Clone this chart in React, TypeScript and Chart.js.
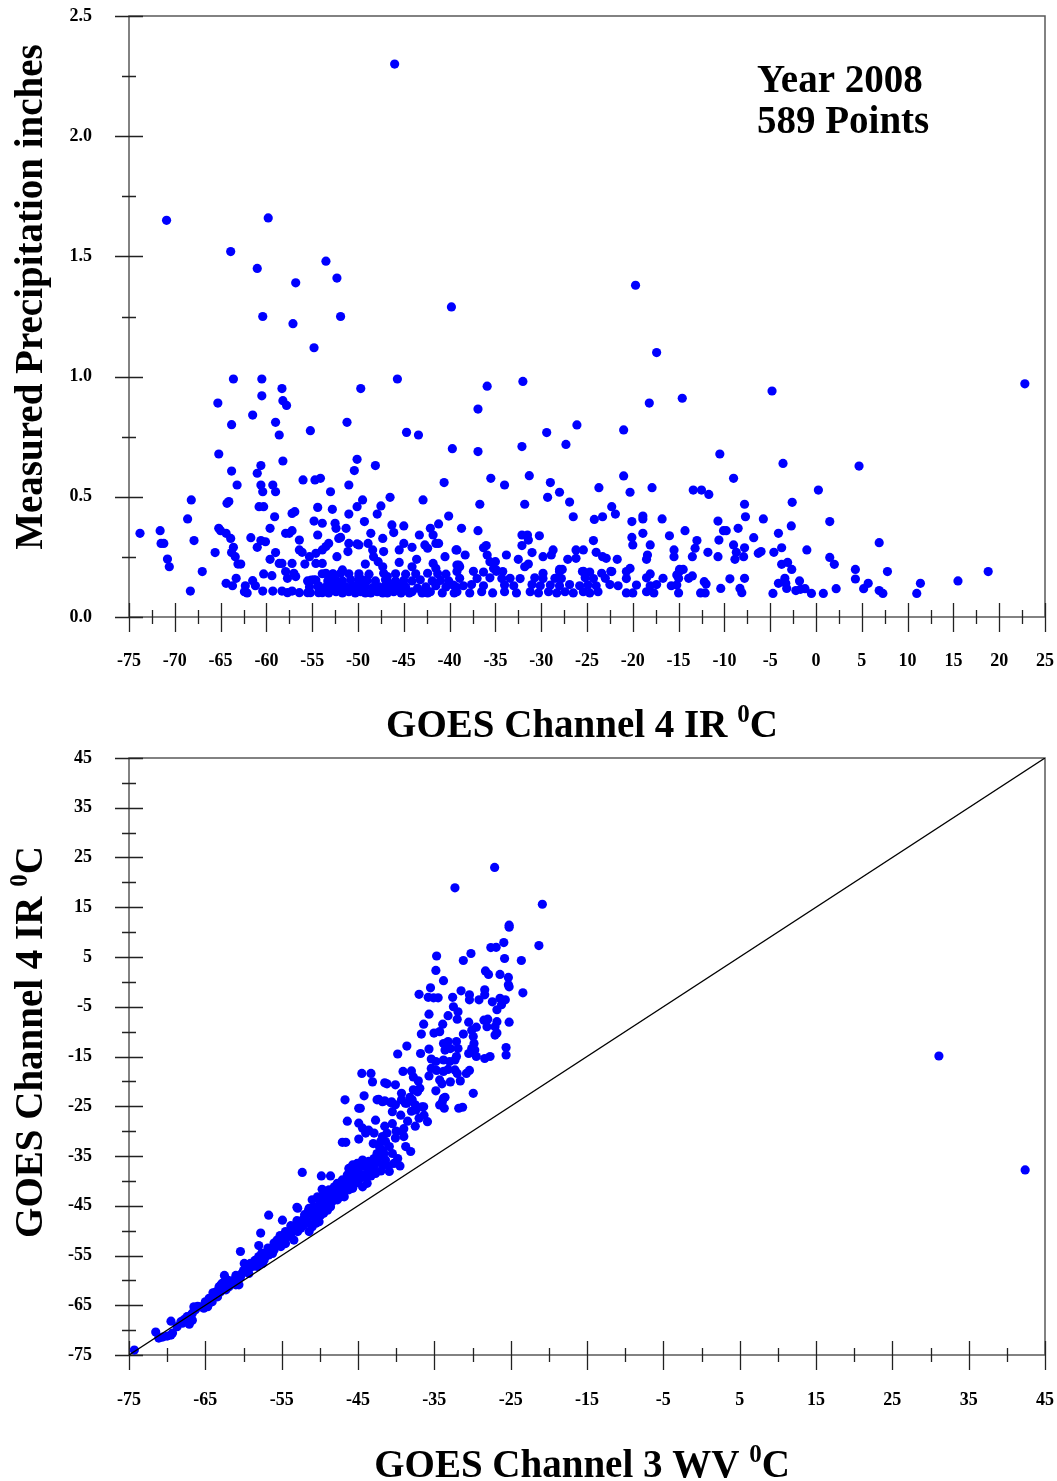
import React, { useEffect, useRef } from 'react';
import { Chart, registerables } from 'chart.js';

Chart.register(...registerables);

// ---------- Top chart data: [GOES Ch4 IR °C, measured precipitation inches] ----------
const precipHigh: number[][] = [
  [-46.0, 2.30], [-70.9, 1.65], [-59.8, 1.66], [-63.9, 1.52], [-61.0, 1.45], [-53.5, 1.48], [-56.8, 1.39],
  [-52.3, 1.41], [-60.4, 1.25], [-51.9, 1.25], [-57.1, 1.22], [-54.8, 1.12], [-39.8, 1.29], [-19.7, 1.38],
  [-17.4, 1.10], [-63.6, 0.99], [-60.5, 0.99], [-45.7, 0.99], [22.8, 0.97], [-32.0, 0.98], [-35.9, 0.96],
  [-49.7, 0.95], [-58.3, 0.95], [-4.8, 0.94], [-58.2, 0.90], [-57.8, 0.88], [-65.3, 0.89], [-18.2, 0.89],
  [-14.6, 0.91], [-36.9, 0.865], [-60.5, 0.92], [-61.5, 0.84],
];

const precipCold: number[][] = [
  [-59.0, 0.81], [-63.8, 0.80], [-51.2, 0.81], [-55.2, 0.775], [-58.6, 0.757], [-44.7, 0.768], [-43.4, 0.757],
  [-39.7, 0.70], [-65.2, 0.678], [-58.2, 0.649], [-50.1, 0.656], [-48.1, 0.63], [-60.6, 0.63], [-63.8, 0.607],
  [-61.0, 0.598], [-50.4, 0.609], [-40.6, 0.559], [-63.2, 0.549], [-60.6, 0.549], [-59.3, 0.549], [-51.0, 0.549],
  [-56.0, 0.57], [-54.7, 0.57], [-54.1, 0.577], [-60.4, 0.521], [-59.0, 0.521], [-53.0, 0.521], [-46.5, 0.498],
  [-68.2, 0.487], [-49.5, 0.487], [-42.9, 0.487], [-64.3, 0.473], [-64.1, 0.48], [-60.8, 0.459], [-60.3, 0.459],
  [-50.1, 0.459], [-54.4, 0.456], [-47.5, 0.462], [-52.8, 0.448], [-57.2, 0.431], [-56.9, 0.438], [-51.0, 0.428],
  [-47.9, 0.428], [-59.1, 0.417], [-40.1, 0.42], [-68.6, 0.408], [-54.8, 0.399], [-49.3, 0.397], [-53.9, 0.39],
  [-52.5, 0.39], [-41.2, 0.387], [-46.3, 0.383], [-45.0, 0.379], [-65.2, 0.369], [-65.0, 0.359], [-59.6, 0.369],
  [-52.4, 0.369], [-51.3, 0.369], [-42.1, 0.369], [-71.6, 0.359], [-57.2, 0.359], [-73.8, 0.348], [-64.4, 0.348],
  [-57.9, 0.348], [-57.5, 0.348], [-48.6, 0.348], [-54.4, 0.341], [-43.3, 0.341], [-41.8, 0.341], [-46.1, 0.351],
  [-61.7, 0.33], [-63.9, 0.327], [-52.1, 0.327], [-51.9, 0.331], [-47.3, 0.327], [-56.4, 0.32], [-60.6, 0.318],
  [-60.1, 0.313], [-67.9, 0.318], [-71.5, 0.306], [-71.2, 0.306], [-53.2, 0.306], [-51.0, 0.306], [-48.9, 0.306],
  [-45.0, 0.306], [-41.5, 0.306], [-41.2, 0.306], [-50.1, 0.304], [-49.9, 0.30], [-42.7, 0.30], [-63.6, 0.29],
  [-61.0, 0.29], [-53.5, 0.293], [-44.1, 0.29], [-42.4, 0.286], [-53.9, 0.279], [-56.4, 0.279], [-48.4, 0.279],
  [-45.5, 0.279], [-39.3, 0.279], [-65.6, 0.268], [-63.8, 0.268], [-59.0, 0.268], [-56.1, 0.269], [-54.6, 0.265],
  [-51.1, 0.272], [-47.2, 0.272], [-63.4, 0.251], [-55.3, 0.251], [-52.3, 0.251], [-48.3, 0.251], [-40.5, 0.251],
  [-70.8, 0.241], [-59.6, 0.24], [-43.6, 0.24], [-47.8, 0.23], [-45.5, 0.227], [-63.1, 0.22], [-62.8, 0.22],
  [-55.8, 0.22], [-49.2, 0.22], [-58.6, 0.223], [-58.3, 0.223], [-57.2, 0.223], [-54.6, 0.223], [-53.9, 0.223],
  [-41.8, 0.223], [-39.2, 0.216], [-70.6, 0.209], [-47.3, 0.209], [-44.1, 0.209], [-41.5, 0.202], [-51.7, 0.196],
  [-67.0, 0.189], [-57.9, 0.189], [-60.3, 0.179], [-57.0, 0.182], [-53.5, 0.182], [-52.7, 0.179], [-59.4, 0.172],
  [-56.8, 0.168], [-53.2, 0.168], [-49.9, 0.168], [-46.8, 0.168], [-63.3, 0.161], [-57.7, 0.161], [-55.1, 0.154],
  [-54.6, 0.154], [-61.5, 0.151], [-49.5, 0.154], [-64.4, 0.14], [-52.8, 0.14], [-46.6, 0.14], [-63.7, 0.13],
  [-62.3, 0.13], [-61.2, 0.13], [-54.3, 0.13], [-53.2, 0.126], [-52.4, 0.126], [-50.6, 0.119], [-68.3, 0.108],
  [-62.4, 0.105], [-62.1, 0.10], [-60.4, 0.108], [-59.3, 0.108], [-58.3, 0.108], [-57.7, 0.101], [-57.2, 0.108],
  [-56.4, 0.101], [-55.5, 0.101], [-55.2, 0.101], [-54.3, 0.101], [-53.9, 0.101], [-51.0, 0.105],
];

const precipColdLow: number[][] = [
  [-53.2, 0.10], [-52.4, 0.105], [-51.7, 0.10], [-50.3, 0.10], [-49.7, 0.105], [-49.2, 0.10], [-48.6, 0.10],
  [-47.9, 0.105], [-47.3, 0.10], [-46.8, 0.10], [-46.1, 0.105], [-45.3, 0.10], [-44.4, 0.10], [-44.1, 0.105],
  [-43.0, 0.10], [-42.4, 0.10], [-42.1, 0.105], [-40.8, 0.10], [-39.5, 0.10],
  [-55.3, 0.125], [-54.4, 0.128], [-53.5, 0.125], [-52.8, 0.122], [-52.1, 0.128], [-51.3, 0.125], [-50.6, 0.13],
  [-49.9, 0.125], [-49.2, 0.128], [-48.4, 0.122], [-47.7, 0.125], [-47.0, 0.13], [-46.3, 0.125], [-45.5, 0.128],
  [-44.8, 0.125], [-43.5, 0.12], [-42.6, 0.125], [-41.5, 0.13], [-40.4, 0.125], [-39.3, 0.125],
  [-55.5, 0.15], [-54.8, 0.155], [-53.3, 0.15], [-52.4, 0.152], [-51.7, 0.15], [-50.8, 0.155], [-49.9, 0.15],
  [-49.0, 0.152], [-48.1, 0.15], [-47.0, 0.155], [-45.9, 0.15], [-45.0, 0.152], [-44.1, 0.15], [-43.2, 0.155],
  [-41.9, 0.15], [-41.0, 0.152], [-40.1, 0.15],
  [-53.9, 0.18], [-52.8, 0.178], [-51.9, 0.182], [-51.0, 0.18], [-49.9, 0.18], [-48.8, 0.178], [-47.2, 0.182],
  [-45.9, 0.18], [-44.8, 0.178], [-43.7, 0.18], [-42.4, 0.182], [-41.3, 0.18], [-40.4, 0.178],
];

const precipMid: number[][] = [
  [-36.9, 0.688], [-32.1, 0.709], [-29.4, 0.767], [-27.3, 0.718], [-26.1, 0.799], [-21.0, 0.778], [-10.5, 0.678],
  [-35.5, 0.577], [-34.0, 0.549], [-31.3, 0.588], [-29.0, 0.559], [-29.3, 0.498], [-28.0, 0.519], [-26.9, 0.478],
  [-26.5, 0.417], [-31.8, 0.469], [-36.7, 0.469], [-38.7, 0.369], [-36.9, 0.359], [-39.2, 0.279], [-38.3, 0.258],
  [-39.0, 0.216], [-38.9, 0.209], [-36.3, 0.288], [-36.0, 0.297], [-35.9, 0.258], [-35.6, 0.23], [-35.0, 0.23],
  [-35.2, 0.202], [-34.9, 0.196], [-34.2, 0.189], [-33.8, 0.258], [-32.5, 0.24], [-32.1, 0.341], [-31.5, 0.341],
  [-32.1, 0.297], [-31.4, 0.32], [-31.8, 0.209], [-31.4, 0.22], [-31.0, 0.268], [-30.2, 0.338], [-29.8, 0.251],
  [-29.8, 0.182], [-28.9, 0.258], [-28.7, 0.279], [-28.0, 0.198], [-27.7, 0.198], [-27.1, 0.24], [-26.2, 0.244],
  [-26.2, 0.279], [-25.4, 0.279], [-25.5, 0.189], [-24.2, 0.406], [-23.3, 0.417], [-23.7, 0.538], [-22.3, 0.459],
  [-21.9, 0.428], [-24.3, 0.318], [-24.0, 0.269], [-23.3, 0.251], [-22.9, 0.244], [-21.7, 0.24], [-23.4, 0.182],
  [-22.3, 0.189], [-21.0, 0.587], [-20.3, 0.519], [-20.1, 0.397], [-20.1, 0.331], [-20.0, 0.30], [-20.3, 0.202],
  [-18.9, 0.42], [-18.9, 0.408], [-18.9, 0.348], [-18.1, 0.30], [-18.4, 0.258], [-18.5, 0.24], [-17.9, 0.538],
  [-18.1, 0.179], [-16.8, 0.408], [-16.7, 0.161], [-16.0, 0.338], [-15.5, 0.279], [-15.5, 0.251], [-14.3, 0.359],
  [-14.9, 0.198], [-14.5, 0.198], [-15.2, 0.175], [-15.0, 0.161], [-13.9, 0.161], [-13.5, 0.171], [-13.4, 0.528],
  [-12.5, 0.528], [-11.7, 0.51], [-13.0, 0.318], [-13.2, 0.286], [-13.5, 0.251], [-11.8, 0.269], [-12.2, 0.147],
  [-12.0, 0.137], [-10.7, 0.399], [-10.1, 0.359], [-9.8, 0.359], [-10.6, 0.32], [-10.7, 0.251], [-9.0, 0.577],
  [-7.8, 0.469], [-7.7, 0.417], [-8.5, 0.369], [-9.0, 0.30], [-8.7, 0.269], [-8.85, 0.24], [-7.8, 0.288],
  [-7.9, 0.251], [-9.4, 0.159], [-7.8, 0.161], [-8.3, 0.119], [-8.1, 0.101], [-10.4, 0.119], [-6.8, 0.33],
  [-6.3, 0.265], [-6.0, 0.272], [-5.75, 0.408],
];

const precipMidLow: number[][] = [
  [-39.2, 0.105], [-37.8, 0.10], [-36.5, 0.105], [-35.3, 0.10], [-34.0, 0.105], [-32.7, 0.10], [-31.2, 0.105],
  [-30.3, 0.10], [-29.2, 0.105], [-28.3, 0.10], [-27.4, 0.105], [-26.5, 0.10], [-25.4, 0.105], [-24.7, 0.10],
  [-23.8, 0.105], [-20.7, 0.10], [-20.0, 0.10], [-18.5, 0.105], [-17.7, 0.10], [-15.0, 0.10], [-12.6, 0.10],
  [-12.1, 0.10],
  [-39.6, 0.133], [-38.5, 0.13], [-37.6, 0.135], [-36.3, 0.13], [-34.0, 0.133], [-33.0, 0.13], [-31.0, 0.135],
  [-30.1, 0.13], [-29.0, 0.133], [-28.0, 0.13], [-26.9, 0.135], [-25.8, 0.13], [-24.9, 0.133], [-24.0, 0.13],
  [-22.5, 0.135], [-21.6, 0.13], [-19.6, 0.133], [-18.1, 0.13], [-17.4, 0.135], [-15.8, 0.13], [-15.2, 0.133],
  [-38.9, 0.161], [-37.0, 0.16], [-35.6, 0.163], [-34.3, 0.16], [-33.4, 0.161], [-32.3, 0.16], [-30.7, 0.163],
  [-29.8, 0.16], [-28.5, 0.161], [-27.8, 0.16], [-25.2, 0.163], [-24.3, 0.16], [-23.0, 0.161], [-20.7, 0.16],
  [-18.5, 0.163],
  [-39.2, 0.189], [-37.4, 0.19], [-36.3, 0.187], [-34.9, 0.19], [-28.0, 0.189], [-25.4, 0.19], [-24.7, 0.187],
  [-22.4, 0.19], [-20.7, 0.189], [-14.9, 0.19],
];

const precipWarm: number[][] = [
  [-3.6, 0.639], [4.7, 0.628], [0.26, 0.528], [-2.6, 0.477], [-2.7, 0.379], [1.5, 0.397], [-4.1, 0.348],
  [-4.6, 0.269], [-3.75, 0.288], [-1.0, 0.279], [6.9, 0.309], [1.5, 0.248], [2.0, 0.219], [-3.75, 0.219],
  [-3.1, 0.227], [-2.65, 0.198], [4.3, 0.198], [7.8, 0.189], [4.3, 0.158], [5.7, 0.14], [5.2, 0.118],
  [18.8, 0.189], [15.5, 0.15], [11.4, 0.14], [11.0, 0.098], [6.9, 0.11], [7.3, 0.098], [-3.4, 0.161],
  [-3.3, 0.14], [-3.2, 0.119], [-4.1, 0.14], [-4.7, 0.098], [-1.8, 0.15], [-2.2, 0.11], [-1.7, 0.115],
  [-1.2, 0.118], [-0.5, 0.098], [0.8, 0.098], [2.2, 0.118],
];

// ---------- Bottom chart data: [GOES Ch3 WV °C, GOES Ch4 IR °C] ----------
const irWvUpper: number[][] = [
  [-27.1, 23.0], [-32.3, 18.9], [-20.85, 15.6], [-25.2, 11.4], [-25.2, 11.0], [-25.9, 7.9], [-21.3, 7.3],
  [-27.6, 6.9], [-26.9, 6.95], [-30.2, 5.7], [-34.7, 5.2], [-31.2, 4.3], [-25.8, 4.7], [-23.6, 4.3],
  [-34.8, 2.3], [-28.3, 2.2], [-27.9, 1.5], [-26.4, 1.5], [-25.3, 0.9], [-33.8, 0.25], [-25.3, -0.6],
  [-25.2, -1.0], [-35.5, -1.2], [-31.5, -1.8], [-28.4, -1.6], [-23.4, -2.2], [-37.0, -2.5], [-35.8, -3.1],
  [-35.1, -3.2], [-34.5, -3.2], [-32.6, -3.1], [-30.4, -2.6], [-30.4, -3.6], [-29.15, -3.6], [-28.4, -2.6],
  [-27.4, -4.0], [-26.4, -3.3], [-25.7, -3.6], [-26.2, -4.6], [-26.8, -5.6], [-32.5, -5.0], [-31.9, -6.0],
  [-33.2, -6.8], [-32.0, -7.5], [-35.7, -6.5], [-28.5, -7.7], [-28.0, -7.5], [-28.1, -9.0], [-30.5, -8.1],
  [-26.8, -8.0], [-25.2, -8.1], [-36.4, -8.5], [-33.9, -8.5], [-36.7, -10.5], [-35.05, -10.3], [-34.3, -10.0],
  [-31.2, -10.5], [-30.1, -9.7], [-29.9, -11.0], [-29.5, -9.1], [-27.05, -9.0], [-27.05, -10.7], [-26.8, -10.3],
  [-33.8, -12.4], [-33.2, -12.0], [-32.1, -12.0], [-29.8, -12.4], [-29.7, -13.7], [-38.6, -12.9], [-39.8, -14.5],
  [-36.8, -14.4], [-35.7, -13.5], [-33.6, -13.7], [-32.9, -13.4], [-31.9, -13.4], [-32.1, -15.0], [-30.5, -14.4],
  [-30.1, -13.4], [-29.5, -15.0], [-28.4, -15.4], [-27.7, -15.0], [-25.6, -13.2], [-25.6, -14.7], [-35.4, -15.5],
  [-34.8, -16.0], [-33.8, -15.7], [-33.0, -16.0], [-32.3, -15.7], [-35.4, -17.4], [-34.7, -17.8], [-33.8, -18.0],
  [-33.2, -17.6], [-32.3, -17.7], [-32.0, -18.4], [-30.8, -18.4], [-30.4, -17.8], [-39.1, -18.0], [-38.0, -17.9],
  [-37.75, -19.1], [-44.5, -18.4], [-43.3, -18.4], [-43.1, -20.1], [-41.5, -20.3], [-41.2, -20.5], [-37.1, -19.9],
  [-36.9, -21.4], [-37.2, -22.1], [-35.7, -18.9], [-34.3, -19.7], [-34.0, -20.5], [-32.9, -20.1], [-31.6, -19.9],
  [-34.8, -21.9], [-33.8, -23.4], [-33.6, -23.2], [-29.9, -22.4], [-31.3, -25.2], [-40.1, -20.7], [-39.3, -22.4],
  [-39.3, -23.7], [-38.2, -23.2], [-37.75, -21.7], [-44.2, -22.9], [-46.7, -23.7], [-42.3, -23.6], [-41.5, -23.9],
  [-40.6, -24.1], [-38.6, -24.4], [-37.5, -24.7], [-36.4, -25.1], [-44.7, -25.4], [-34.3, -24.75],
];

const irWvMiddle: number[][] = [
  [-44.9, -25.4], [-42.5, -23.7], [-41.8, -24.1], [-40.7, -24.3], [-40.1, -24.7], [-40.5, -26.1], [-39.4, -26.8],
  [-38.8, -24.4], [-37.9, -23.7], [-37.4, -25.75], [-37.0, -27.4], [-36.6, -25.1], [-36.35, -26.8], [-35.9, -28.1],
  [-33.95, -24.1], [-33.7, -25.4], [-31.8, -25.4], [-46.4, -28.0], [-44.9, -28.4], [-44.4, -29.4], [-44.0, -30.4],
  [-43.6, -29.8], [-42.7, -27.8], [-42.9, -30.4], [-44.9, -31.6], [-47.05, -32.25], [-46.6, -32.25], [-41.8, -31.1],
  [-41.4, -32.1], [-40.9, -33.1], [-41.2, -30.4], [-40.1, -31.4], [-39.2, -30.1], [-39.0, -31.1], [-38.75, -33.1],
  [-38.1, -34.1], [-42.2, -33.1], [-42.5, -34.5], [-42.9, -35.5], [-43.6, -36.1], [-44.4, -35.8], [-45.1, -36.5],
  [-45.7, -36.8], [-46.2, -37.5], [-45.3, -37.5], [-44.2, -37.1], [-43.6, -37.8], [-42.9, -37.1], [-42.7, -38.5],
  [-41.8, -36.8], [-41.4, -35.8], [-41.6, -34.5], [-40.9, -38.1], [-43.8, -40.5], [-44.9, -39.8], [-44.0, -39.2],
  [-44.4, -41.2], [-46.6, -39.8], [-47.05, -40.8], [-47.7, -41.5], [-48.4, -42.2], [-46.4, -41.2], [-45.7, -41.5],
  [-45.3, -40.5], [-52.3, -38.3], [-49.8, -39.0], [-48.6, -39.0], [-49.7, -41.7], [-49.0, -43.2], [-49.7, -43.8],
  [-50.3, -43.2], [-51.0, -43.8], [-50.8, -45.2], [-51.4, -45.5], [-50.5, -46.2], [-49.9, -45.5], [-49.2, -44.5],
  [-48.4, -44.2], [-47.9, -43.2], [-47.5, -42.5], [-46.8, -42.2], [-46.2, -41.8], [-53.0, -45.3],
  [-43.0, -32.5], [-42.0, -32.0], [-40.5, -34.5], [-39.8, -35.5], [-40.3, -36.5], [-39.5, -37.0], [-43.3, -39.0],
  [-42.0, -38.0], [-41.0, -37.0], [-45.8, -39.0], [-45.0, -38.0], [-46.0, -38.0], [-48.0, -41.5], [-49.5, -42.5],
  [-41.5, -29.0], [-40.5, -28.5], [-38.5, -28.0], [-38.0, -26.0], [-39.0, -29.5], [-40.0, -30.0], [-37.5, -29.0],
];

const irWvLower: number[][] = [
  [-74.3, -74.0], [-71.5, -70.4], [-71.1, -71.6], [-70.6, -71.4], [-70.0, -71.2], [-69.5, -71.0], [-69.5, -68.2],
  [-68.2, -68.3], [-67.8, -67.9], [-67.1, -68.8], [-66.9, -67.0], [-66.5, -65.3], [-66.0, -65.2],
  [-69.3, -70.6], [-68.7, -69.3], [-68.0, -68.6], [-67.4, -67.3], [-66.7, -66.6], [-66.3, -65.9], [-65.6, -65.3],
  [-65.2, -65.6], [-66.7, -68.0], [-64.5, -64.6], [-63.4, -63.3], [-62.6, -61.6], [-61.9, -60.3], [-61.2, -59.9],
  [-60.6, -60.9],
  [-65.0, -64.3], [-64.7, -65.3], [-64.5, -63.6], [-63.9, -63.3], [-63.6, -62.3], [-63.2, -61.3], [-62.8, -60.6],
  [-62.3, -61.9], [-61.9, -61.3], [-61.0, -60.9], [-60.8, -59.9], [-60.2, -58.6], [-59.9, -56.6], [-60.4, -54.2],
  [-59.5, -57.9], [-58.8, -57.2], [-58.4, -55.9], [-58.0, -55.2], [-57.75, -50.5], [-57.5, -56.6], [-57.1, -55.2],
  [-56.7, -46.9], [-56.2, -54.6], [-55.8, -53.2], [-55.35, -52.6], [-54.9, -47.9], [-54.7, -51.9], [-54.3, -51.2],
  [-54.0, -50.5], [-53.6, -50.2], [-53.2, -49.2], [-52.9, -45.5], [-52.7, -48.5], [-52.3, -47.9], [-51.9, -47.2],
  [-51.2, -46.5], [-51.0, -49.2], [-50.5, -48.5], [-50.3, -47.5], [-49.9, -46.9], [-49.7, -45.9], [-49.2, -45.2],
  [-48.8, -44.5], [-48.4, -43.5], [-47.9, -42.5], [-47.5, -41.8], [-47.05, -41.2], [-46.6, -40.8], [-46.2, -39.8],
  [-48.8, -41.8], [-48.1, -41.2], [-47.7, -40.5], [-47.05, -39.8], [-46.4, -38.8],
  [-64.1, -64.3], [-63.0, -62.3], [-61.5, -60.3], [-60.4, -59.3], [-59.3, -58.6], [-59.1, -56.6], [-58.2, -57.2],
  [-57.3, -55.9], [-56.7, -54.9], [-56.0, -53.9], [-55.6, -51.9], [-55.1, -53.2], [-54.5, -52.6], [-53.8, -51.2],
  [-53.4, -51.9], [-52.9, -50.2], [-52.5, -49.5], [-52.1, -48.9], [-51.6, -48.2], [-51.4, -50.2], [-50.8, -47.2],
  [-50.1, -48.2], [-49.5, -46.5], [-49.0, -45.9], [-48.6, -45.2], [-48.1, -42.8], [-47.7, -43.8], [-47.3, -43.2],
  [-46.8, -43.2], [-46.0, -40.8], [-45.5, -39.2], [-44.9, -38.5], [-44.4, -38.8], [-43.3, -36.8], [-42.5, -36.1],
  [-42.2, -35.1], [-41.8, -33.8],
  [-50.0, -44.5], [-51.5, -46.0], [-52.0, -46.8], [-53.0, -48.0], [-53.8, -49.0], [-54.5, -50.2], [-55.2, -51.0],
  [-56.0, -52.5], [-56.8, -53.5], [-57.6, -54.5], [-58.5, -56.0], [-59.5, -56.9], [-60.0, -58.0], [-61.0, -59.0],
  [-62.0, -60.0], [-63.0, -61.0], [-64.0, -62.5], [-62.5, -59.0], [-58.0, -53.0],
];

const irWvOutliers: number[][] = [[31.1, -14.9], [42.4, -37.8]];

const oneToOneLine: number[][] = [[-75, -75], [45, 45]];

// ---------- Axes ----------
const topXMajor = [-75, -70, -65, -60, -55, -50, -45, -40, -35, -30, -25, -20, -15, -10, -5, 0, 5, 10, 15, 20, 25];
const topXLabels = ['-75', '-70', '-65', '-60', '-55', '-50', '-45', '-40', '-35', '-30', '-25', '-20', '-15', '-10', '-5', '0', '5', '10', '15', '20', '25'];
const topYMajor = [0, 0.5, 1.0, 1.5, 2.0, 2.5];
const topYLabels = ['0.0', '0.5', '1.0', '1.5', '2.0', '2.5'];
const botXMajor = [-75, -65, -55, -45, -35, -25, -15, -5, 5, 15, 25, 35, 45];
const botXLabels = ['-75', '-65', '-55', '-45', '-35', '-25', '-15', '-5', '5', '15', '25', '35', '45'];
const botYMajor = [-75, -65, -55, -45, -35, -25, -15, -5, 5, 15, 25, 35, 45];
const botYLabels = ['-75', '-65', '-55', '-45', '-35', '-25', '-15', '-5', '5', '15', '25', '35', '45'];

const SERIF = '"Liberation Serif", "Times New Roman", Times, serif';

function midpoints(v: number[]) {
  const out: number[] = [];
  for (let i = 0; i < v.length - 1; i++) out.push((v[i] + v[i + 1]) / 2);
  return out;
}

function drawSupTitle(ctx: CanvasRenderingContext2D, cx: number, cy: number, rot: number, pre: string, sup: string, post: string) {
  ctx.save();
  ctx.translate(cx, cy);
  ctx.rotate(rot);
  const mainFont = `bold 39px ${SERIF}`;
  const supFont = `bold 25px ${SERIF}`;
  ctx.font = mainFont;
  const w1 = ctx.measureText(pre).width;
  const w3 = ctx.measureText(post).width;
  ctx.font = supFont;
  const w2 = ctx.measureText(sup).width;
  const x0 = -(w1 + w2 + w3) / 2;
  ctx.textAlign = 'left';
  ctx.textBaseline = 'alphabetic';
  ctx.fillStyle = '#000';
  ctx.font = mainFont;
  ctx.fillText(pre, x0, 0);
  ctx.font = supFont;
  ctx.fillText(sup, x0 + w1, -15);
  ctx.font = mainFont;
  ctx.fillText(post, x0 + w1 + w2, 0);
  ctx.restore();
}

type AxisCfg = {
  xMajor: number[]; xLabels: string[]; yMajor: number[]; yLabels: string[];
  xLabelOffset: number;
  xTitle: [string, string, string]; yTitle: [string, string, string];
  xTitleY: number; yTitleX: number; yTitleY: number;
  note?: boolean;
};

function makeAxesPlugin(cfg: AxisCfg) {
  return {
    id: 'customAxes',
    beforeDatasetsDraw(chart: any) {
      const { ctx, chartArea: ca, scales } = chart;
      const xs = scales.x;
      const ys = scales.y;
      ctx.save();
      ctx.strokeStyle = '#5a5a5a';
      ctx.lineWidth = 1.5;
      ctx.beginPath();
      ctx.moveTo(ca.left, ca.top);
      ctx.lineTo(ca.right, ca.top);
      ctx.lineTo(ca.right, ca.bottom);
      ctx.lineTo(ca.left, ca.bottom);
      ctx.closePath();
      ctx.stroke();
      ctx.strokeStyle = '#222';
      ctx.lineWidth = 1.3;
      ctx.beginPath();
      cfg.xMajor.forEach((v) => {
        const p = Math.round(xs.getPixelForValue(v)) + 0.5;
        ctx.moveTo(p, ca.bottom - 14);
        ctx.lineTo(p, ca.bottom + 15);
      });
      midpoints(cfg.xMajor).forEach((v) => {
        const p = Math.round(xs.getPixelForValue(v)) + 0.5;
        ctx.moveTo(p, ca.bottom - 7);
        ctx.lineTo(p, ca.bottom + 7);
      });
      cfg.yMajor.forEach((v) => {
        const p = Math.round(ys.getPixelForValue(v)) + 0.5;
        ctx.moveTo(ca.left - 14, p);
        ctx.lineTo(ca.left + 14, p);
      });
      midpoints(cfg.yMajor).forEach((v) => {
        const p = Math.round(ys.getPixelForValue(v)) + 0.5;
        ctx.moveTo(ca.left - 7, p);
        ctx.lineTo(ca.left + 7, p);
      });
      ctx.stroke();
      ctx.fillStyle = '#000';
      ctx.font = `bold 18px ${SERIF}`;
      ctx.textAlign = 'center';
      ctx.textBaseline = 'middle';
      cfg.xMajor.forEach((v, i) => {
        ctx.fillText(cfg.xLabels[i], xs.getPixelForValue(v), ca.bottom + cfg.xLabelOffset);
      });
      ctx.textAlign = 'right';
      cfg.yMajor.forEach((v, i) => {
        ctx.fillText(cfg.yLabels[i], ca.left - 37, ys.getPixelForValue(v));
      });
      ctx.restore();
      drawSupTitle(ctx, 582, cfg.xTitleY, 0, cfg.xTitle[0], cfg.xTitle[1], cfg.xTitle[2]);
      drawSupTitle(ctx, cfg.yTitleX, cfg.yTitleY, -Math.PI / 2, cfg.yTitle[0], cfg.yTitle[1], cfg.yTitle[2]);
      if (cfg.note) {
        ctx.save();
        ctx.fillStyle = '#000';
        ctx.font = `bold 39px ${SERIF}`;
        ctx.textAlign = 'left';
        ctx.textBaseline = 'alphabetic';
        ctx.fillText('Year 2008', 757, 92);
        ctx.fillText('589 Points', 757, 133);
        ctx.restore();
      }
    },
  };
}

const toXY = (arr: number[][]) => arr.map(([x, y]) => ({ x, y }));

function ScatterCanvas({ config, width, height }: { config: () => any; width: number; height: number }) {
  const ref = useRef<HTMLCanvasElement | null>(null);
  useEffect(() => {
    if (!ref.current) return;
    const chart = new Chart(ref.current, config());
    return () => chart.destroy();
  }, []);
  return <canvas ref={ref} width={width} height={height} style={{ display: 'block', width, height }} />;
}

const baseOptions = (xmin: number, xmax: number, ymin: number, ymax: number, padBottom: number, padTop: number) => ({
  responsive: false,
  maintainAspectRatio: false,
  animation: false,
  devicePixelRatio: 1,
  layout: { padding: { left: 129, right: 12, top: padTop, bottom: padBottom } },
  plugins: { legend: { display: false }, tooltip: { enabled: false } },
  events: [],
  scales: {
    x: { type: 'linear', min: xmin, max: xmax, display: false },
    y: { type: 'linear', min: ymin, max: ymax, display: false },
  },
});

const topConfig = () => ({
  type: 'scatter',
  data: {
    datasets: [
      {
        data: toXY([...precipHigh, ...precipCold, ...precipColdLow, ...precipMid, ...precipMidLow, ...precipWarm]),
        backgroundColor: '#0000ff',
        borderWidth: 0,
        pointRadius: 4.6,
      },
    ],
  },
  options: baseOptions(-75, 25, 0, 2.5, 123, 16),
  plugins: [
    makeAxesPlugin({
      xMajor: topXMajor, xLabels: topXLabels, yMajor: topYMajor, yLabels: topYLabels,
      xLabelOffset: 44,
      xTitle: ['GOES Channel 4 IR ', '0', 'C'],
      yTitle: ['Measured Precipitation inches', '', ''],
      xTitleY: 737, yTitleX: 42, yTitleY: 297,
      note: true,
    }),
  ],
});

const bottomConfig = () => ({
  type: 'scatter',
  data: {
    datasets: [
      {
        type: 'line',
        data: toXY(oneToOneLine),
        borderColor: '#000',
        borderWidth: 1.3,
        pointRadius: 0,
        fill: false,
        order: 0,
      },
      {
        data: toXY([...irWvUpper, ...irWvMiddle, ...irWvLower, ...irWvOutliers]),
        backgroundColor: '#0000ff',
        borderWidth: 0,
        pointRadius: 4.6,
        order: 1,
      },
    ],
  },
  options: baseOptions(-75, 45, -75, 45, 126, 18),
  plugins: [
    makeAxesPlugin({
      xMajor: botXMajor, xLabels: botXLabels, yMajor: botYMajor, yLabels: botYLabels,
      xLabelOffset: 45,
      xTitle: ['GOES Channel 3 WV ', '0', 'C'],
      yTitle: ['GOES Channel 4 IR ', '0', 'C'],
      xTitleY: 737, yTitleX: 42, yTitleY: 302,
    }),
  ],
});

export default function App() {
  return (
    <div style={{ position: 'fixed', left: 0, top: 0, width: 1057, height: 1481, background: '#fff', overflow: 'hidden' }}>
      <ScatterCanvas config={topConfig} width={1057} height={740} />
      <ScatterCanvas config={bottomConfig} width={1057} height={741} />
    </div>
  );
}
